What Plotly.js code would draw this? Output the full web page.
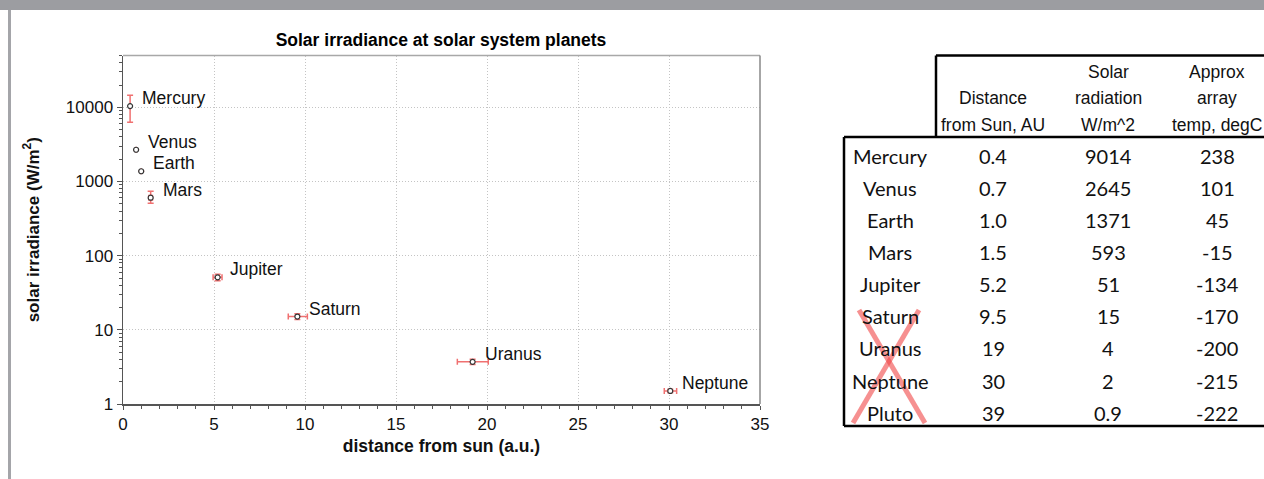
<!DOCTYPE html>
<html>
<head>
<meta charset="utf-8">
<script src="https://cdn.plot.ly/plotly-3.0.1.min.js"></script>
<style>
  html, body { margin: 0; padding: 0; background: #ffffff; }
  #chart { width: 1264px; height: 479px; }
</style>
</head>
<body>
<div id="chart"></div>
<script>
// ---- Chart data ----
const planets = ['Mercury', 'Venus', 'Earth', 'Mars', 'Jupiter', 'Saturn', 'Uranus', 'Neptune'];
const distAU = [0.39, 0.72, 1.00, 1.52, 5.20, 9.58, 19.21, 30.07];          // distance from sun (a.u.)
const distErrMinus = [0, 0, 0, 0.10, 0.25, 0.50, 0.84, 0.33];
const distErrPlus  = [0, 0, 0, 0.10, 0.24, 0.55, 0.86, 0.35];
const irradiance = [10400, 2680, 1375, 605, 51, 15.1, 3.7, 1.5];           // W/m^2
const irrErrPlus  = [4100, 0, 0, 135, 5, 1.4, 0.3, 0.08];
const irrErrMinus = [4100, 0, 0, 96, 5, 1.3, 0.3, 0.08];
const yTickVals = [1, 10, 100, 1000, 10000];
const yTickText = ['1', '10', '100', '1000', '10000'];

// ---- Table data ----
const headerLines = [
  ['', 'Distance', 'from Sun, AU'],
  ['Solar', 'radiation', 'W/m^2'],
  ['Approx', 'array', 'temp, degC']
];
const tableNames = ['Mercury', 'Venus', 'Earth', 'Mars', 'Jupiter', 'Saturn', 'Uranus', 'Neptune', 'Pluto'];
const tableDist  = ['0.4', '0.7', '1.0', '1.5', '5.2', '9.5', '19', '30', '39'];
const tableRad   = ['9014', '2645', '1371', '593', '51', '15', '4', '2', '0.9'];
const tableTemp  = ['238', '101', '45', '-15', '-134', '-170', '-200', '-215', '-222'];

// ---- Page geometry helpers (pixels -> paper fractions) ----
const W = 1264, H = 479;
const px = x => x / W;
const py = y => 1 - y / H;

const chartFont = 'Liberation Sans, Arial, Helvetica, sans-serif';
const headFont = 'Liberation Sans Narrow, Arial Narrow, Liberation Sans, Arial, sans-serif';
const bodyFont = 'Lato, Carlito, Calibri, Open Sans, sans-serif';

const trace = {
  type: 'scatter',
  mode: 'markers',
  x: distAU,
  y: irradiance,
  marker: { symbol: 'circle', size: 5, color: '#ffffff', line: { width: 1.2, color: '#333333' } },
  error_y: { type: 'data', symmetric: false, array: irrErrPlus, arrayminus: irrErrMinus,
             color: '#f07070', thickness: 1.5, width: 3 },
  error_x: { type: 'data', symmetric: false, array: distErrPlus, arrayminus: distErrMinus,
             color: '#f07070', thickness: 1.5, width: 3 },
  hoverinfo: 'x+y',
  showlegend: false
};

const annotations = [];

// planet labels next to their points
planets.forEach((name, i) => {
  annotations.push({
    x: distAU[i], y: Math.log10(irradiance[i]), xref: 'x', yref: 'y',
    text: name, showarrow: false, xanchor: 'left', yanchor: 'middle',
    xshift: 10, yshift: 8,
    font: { family: chartFont, size: 17.5, color: '#111111' }
  });
});

// table header
const colCenters = [993, 1108, 1217];
const headerRowsY = [71.7, 98.3, 125];
headerLines.forEach((lines, c) => {
  lines.forEach((t, r) => {
    if (!t) return;
    annotations.push({
      x: px(colCenters[c]), y: py(headerRowsY[r]), xref: 'paper', yref: 'paper',
      text: t, showarrow: false, xanchor: 'center', yanchor: 'middle',
      font: { family: headFont, size: 17.5, color: '#111111' }
    });
  });
});

// table body
const rowY0 = 155.5, rowStep = 32.16;
const nameCenter = 890;
tableNames.forEach((name, r) => {
  const y = py(rowY0 + r * rowStep);
  const cells = [[nameCenter, name], [colCenters[0], tableDist[r]], [colCenters[1], tableRad[r]], [colCenters[2], tableTemp[r]]];
  cells.forEach(([cx, t]) => {
    annotations.push({
      x: px(cx), y: y, xref: 'paper', yref: 'paper',
      text: t, showarrow: false, xanchor: 'center', yanchor: 'middle',
      font: { family: bodyFont, size: 20, color: '#111111' }
    });
  });
});

const line = (x0, y0, x1, y1, color, width) => ({
  type: 'line', xref: 'paper', yref: 'paper',
  x0: px(x0), y0: py(y0), x1: px(x1), y1: py(y1),
  line: { color: color, width: width }
});

const shapes = [
  // window frame: top bar and left edge
  { type: 'rect', xref: 'paper', yref: 'paper', x0: 0, x1: 1, y0: py(10), y1: 1,
    fillcolor: '#9c9da1', line: { width: 0 } },
  { type: 'rect', xref: 'paper', yref: 'paper', x0: px(8), x1: px(11), y0: 0, y1: py(10),
    fillcolor: '#a4a5a9', line: { width: 0 } },
  // plot frame top and right
  { type: 'line', xref: 'x domain', yref: 'y domain', x0: 0, x1: 1, y0: 1, y1: 1,
    line: { color: '#a8a8a8', width: 1.5 } },
  { type: 'line', xref: 'x domain', yref: 'y domain', x0: 1, x1: 1, y0: 0, y1: 1,
    line: { color: '#888888', width: 1.5 } },
  // table borders
  line(936, 55.5, 1264, 55.5, '#000000', 2.5),
  line(936, 55.5, 936, 137, '#000000', 2.5),
  line(844, 137, 1264, 137, '#000000', 2.5),
  line(844, 137, 844, 426, '#000000', 2.5),
  line(844, 426, 1264, 426, '#000000', 2.5),
  // red cross over the outer planets
  line(859, 310, 925, 423, 'rgba(240,70,70,0.6)', 5),
  line(919, 310, 853, 423, 'rgba(240,70,70,0.6)', 5)
];

const layout = {
  width: W, height: H,
  margin: { l: 0, r: 0, t: 0, b: 0, pad: 0 },
  paper_bgcolor: '#ffffff',
  plot_bgcolor: '#ffffff',
  font: { family: chartFont, size: 17, color: '#111111' },
  title: {
    text: '<b>Solar irradiance at solar system planets</b>',
    x: px(441), y: py(40), xref: 'paper', yref: 'paper',
    xanchor: 'center', yanchor: 'middle',
    font: { family: chartFont, size: 17.5, color: '#000000' }
  },
  xaxis: {
    domain: [px(123), px(760)],
    range: [0, 35],
    dtick: 5, tick0: 0,
    showline: true, linecolor: '#555555', linewidth: 1.5,
    ticks: 'outside', ticklen: 4, tickcolor: '#555555', tickwidth: 1,
    minor: { dtick: 1, ticks: 'outside', ticklen: 3, tickcolor: '#555555', showgrid: false },
    showgrid: true, gridcolor: '#c4c4c4', griddash: '1px,2px', gridwidth: 1,
    zeroline: false,
    tickfont: { family: chartFont, size: 17, color: '#111111' },
    title: { text: '<b>distance from sun (a.u.)</b>', standoff: 7,
             font: { family: chartFont, size: 17.5, color: '#111111' } }
  },
  yaxis: {
    domain: [py(404), py(55.5)],
    type: 'log',
    range: [0, Math.log10(50000)],
    tickmode: 'array', tickvals: yTickVals, ticktext: yTickText,
    showline: true, linecolor: '#555555', linewidth: 1.5,
    ticks: 'outside', ticklen: 5, tickcolor: '#555555', tickwidth: 1,
    minor: { dtick: 'D1', ticks: 'outside', ticklen: 3, tickcolor: '#555555', showgrid: false },
    showgrid: true, gridcolor: '#c4c4c4', griddash: '1px,2px', gridwidth: 1,
    zeroline: false,
    tickfont: { family: chartFont, size: 17, color: '#111111' },
    title: { text: '<b>solar irradiance (W/m<sup>2</sup>)</b>', standoff: 22,
             font: { family: chartFont, size: 17, color: '#111111' } }
  },
  annotations: annotations,
  shapes: shapes,
  showlegend: false
};

Plotly.newPlot('chart', [trace], layout, { staticPlot: true, displayModeBar: false });
</script>
</body>
</html>
